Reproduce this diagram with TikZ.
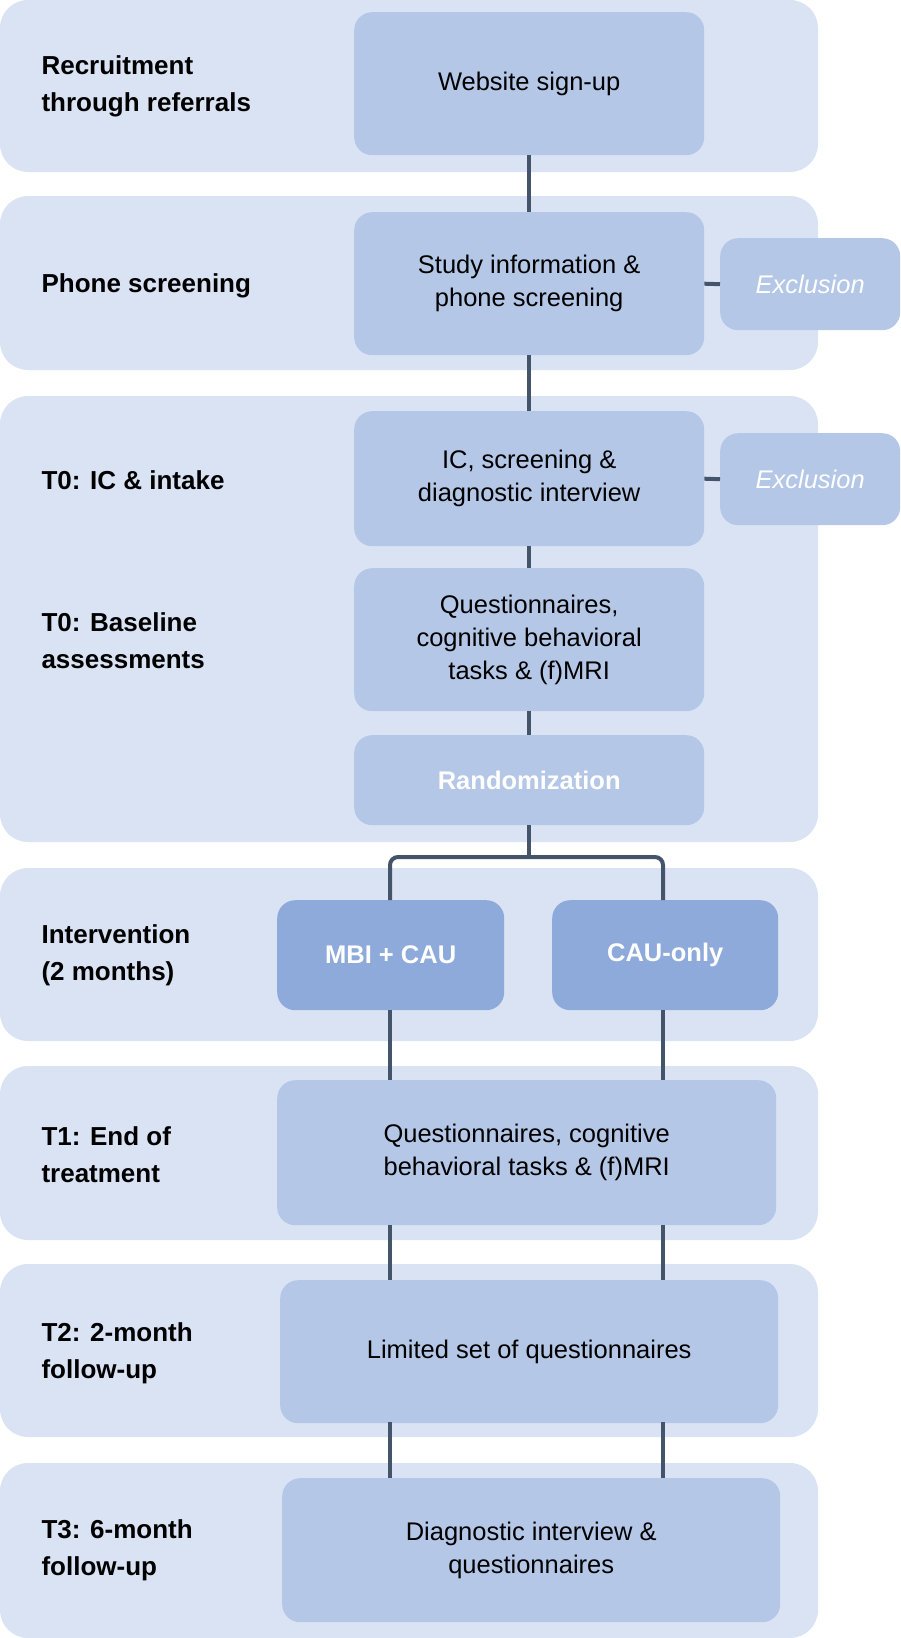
\documentclass[tikz,border=0pt]{standalone}
\usepackage{fontspec}
\setmainfont{Liberation Sans}
\definecolor{band}{HTML}{DAE3F3}
\definecolor{boxc}{HTML}{B4C7E7}
\definecolor{dark}{HTML}{8EAADB}
\definecolor{line}{HTML}{44546A}
\begin{document}
\begin{tikzpicture}[x=1pt,y=-1pt,
  bandbox/.style={fill=band,rounded corners=28pt},
  stepbox/.style={fill=boxc,rounded corners=18pt,align=center,font=\fontsize{25.5}{33}\selectfont,anchor=north west,inner sep=0pt},
  lab/.style={anchor=west,align=left,font=\fontsize{26}{37}\selectfont\bfseries},
  conn/.style={draw=line,line width=4pt}]
\useasboundingbox (0,0) rectangle (900,1638);
\fill[bandbox] (0,0) rectangle (818,172);
\fill[bandbox] (0,196) rectangle (818,370);
\fill[bandbox] (0,396) rectangle (818,842);
\fill[bandbox] (0,868) rectangle (818,1041);
\fill[bandbox] (0,1066) rectangle (818,1240);
\fill[bandbox] (0,1264) rectangle (818,1437);
\fill[bandbox] (0,1463) rectangle (818,1638);
\node[lab] (l1) at (38,86) {Recruitment\\through referrals};
\node[lab] (l2) at (38,286) {Phone screening};
\node[lab] (l3) at (38,480) {T0: IC \& intake};
\node[lab] (l4) at (38,641) {T0: Baseline\\assessments};
\node[lab] (l5) at (38,955) {Intervention\\(2 months)};
\node[lab] (l6) at (38,1155) {T1: End of\\treatment};
\node[lab] (l7) at (38,1353) {T2: 2-month\\follow-up};
\node[lab] (l8) at (38,1550) {T3: 6-month\\follow-up};
\node[stepbox,minimum width=350pt,minimum height=143pt] (a) at (354,12) {Website sign-up};
\node[stepbox,minimum width=350pt,minimum height=143pt] (b) at (354,212) {Study information \&\\phone screening};
\node[stepbox,minimum width=180pt,minimum height=92pt,font=\fontsize{25.5}{33}\selectfont\itshape,text=white] (e1) at (720,238) {Exclusion};
\node[stepbox,minimum width=350pt,minimum height=135pt] (c) at (354,411) {IC, screening \&\\diagnostic interview};
\node[stepbox,minimum width=180pt,minimum height=92pt,font=\fontsize{25.5}{33}\selectfont\itshape,text=white] (e2) at (720,433) {Exclusion};
\node[stepbox,minimum width=350pt,minimum height=143pt] (d) at (354,568) {Questionnaires,\\cognitive behavioral\\tasks \& (f)MRI};
\node[stepbox,minimum width=350pt,minimum height=90pt,font=\fontsize{25.5}{33}\selectfont\bfseries,text=white] (r) at (354,735) {Randomization};
\node[stepbox,fill=dark,minimum width=227pt,minimum height=110pt,font=\fontsize{25.5}{33}\selectfont\bfseries,text=white] (m) at (277,900) {MBI + CAU};
\node[stepbox,fill=dark,minimum width=226pt,minimum height=110pt,font=\fontsize{25.5}{33}\selectfont\bfseries,text=white] (o) at (552,900) {CAU-only};
\node[stepbox,minimum width=499pt,minimum height=145pt] (t1) at (277,1080) {Questionnaires, cognitive\\behavioral tasks \& (f)MRI};
\node[stepbox,minimum width=498pt,minimum height=143pt] (t2) at (280,1280) {Limited set of questionnaires};
\node[stepbox,minimum width=498pt,minimum height=144pt] (t3) at (282,1478) {Diagnostic interview \&\\questionnaires};
\draw[conn] (a.south) -- (b.north);
\draw[conn] (b.south) -- (c.north);
\draw[conn] (c.south) -- (d.north);
\draw[conn] (d.south) -- (r.north);
\draw[conn] (b.east) -- (e1.west);
\draw[conn] (c.east) -- (e2.west);
\draw[conn] (r.south) -- (r.south |- 0,857);
\draw[conn,rounded corners=8pt] (m.north -| 390,0) -- (390,857) -- (663,857) -- (o.north -| 663,0);
\foreach \x in {390,663}{
  \draw[conn] (\x,1010) -- (\x,1080);
  \draw[conn] (\x,1225) -- (\x,1280);
  \draw[conn] (\x,1422) -- (\x,1478);
}
\end{tikzpicture}
\end{document}
